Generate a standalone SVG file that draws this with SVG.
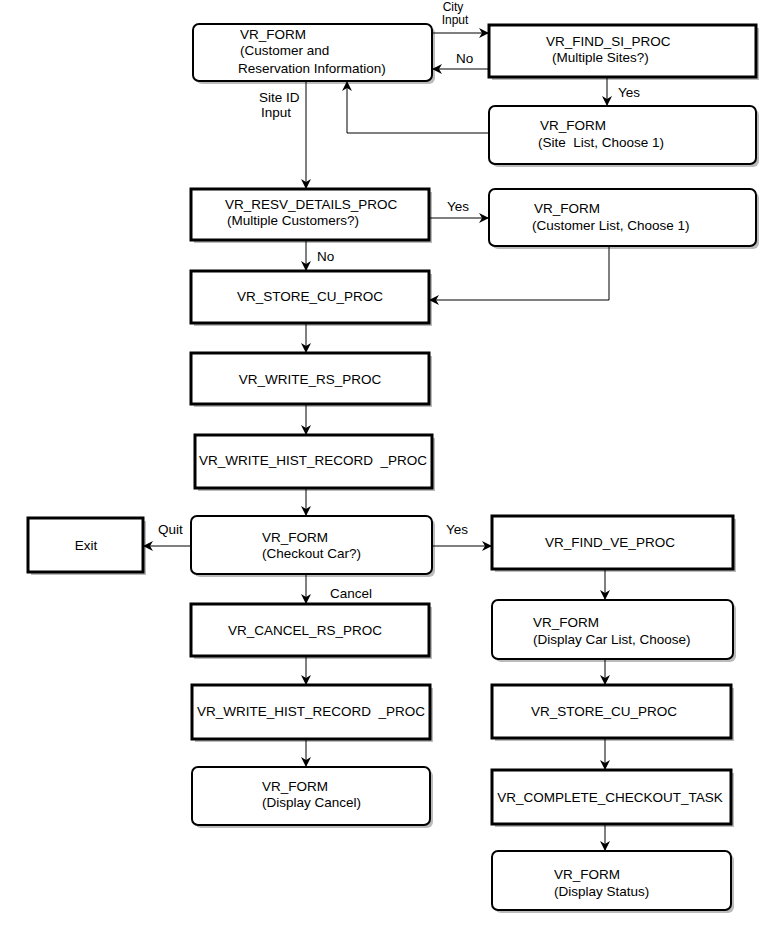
<svg xmlns="http://www.w3.org/2000/svg" width="762" height="938" viewBox="0 0 762 938">
<defs>
<marker id="ah" viewBox="0 0 10 10" refX="10" refY="5" markerWidth="10" markerHeight="10" markerUnits="userSpaceOnUse" orient="auto"><path d="M0,0 L10,5 L0,10 L3,5 z" fill="#000"/></marker>
</defs>
<style>
text{font-family:"Liberation Sans",Arial,sans-serif;font-size:13.5px;fill:#000}
.sm{font-size:12px}
.p{fill:#fff;stroke:#000;stroke-width:3}
.f{fill:#fff;stroke:#000;stroke-width:2}
.s{fill:#bbb;stroke:none}
.c{fill:none;stroke:#000;stroke-width:1;marker-end:url(#ah)}
.m{text-anchor:middle}
</style>
<rect width="762" height="938" fill="#fff"/>
<g id="form1"><rect class="s" x="196" y="27" width="239" height="57" rx="6"/><rect class="f" x="193" y="24" width="239" height="57" rx="6"/><text x="240" y="39">VR_FORM</text><text x="240" y="55">(Customer and</text><text x="238" y="73">Reservation Information)</text></g>
<g id="find_si"><rect class="s" x="492" y="28" width="267" height="52"/><rect class="p" x="489" y="25" width="267" height="52"/><text x="546" y="46">VR_FIND_SI_PROC</text><text x="552" y="62">(Multiple Sites?)</text></g>
<g id="site_list"><rect class="s" x="492" y="109" width="267" height="58" rx="6"/><rect class="f" x="489" y="106" width="267" height="58" rx="6"/><text x="540" y="130">VR_FORM</text><text x="538" y="147" xml:space="preserve">(Site  List, Choose 1)</text></g>
<g id="resv"><rect class="s" x="194" y="192" width="238" height="51"/><rect class="p" x="191" y="189" width="238" height="51"/><text x="225" y="209">VR_RESV_DETAILS_PROC</text><text x="227" y="225">(Multiple Customers?)</text></g>
<g id="cust_list"><rect class="s" x="492" y="192" width="267" height="57" rx="6"/><rect class="f" x="489" y="189" width="267" height="57" rx="6"/><text x="534" y="213">VR_FORM</text><text x="532" y="230">(Customer List, Choose 1)</text></g>
<g id="store1"><rect class="s" x="194" y="274" width="238" height="52"/><rect class="p" x="191" y="271" width="238" height="52"/><text class="m" x="310" y="301">VR_STORE_CU_PROC</text></g>
<g id="write_rs"><rect class="s" x="194" y="356" width="238" height="51"/><rect class="p" x="191" y="353" width="238" height="51"/><text class="m" x="310" y="384">VR_WRITE_RS_PROC</text></g>
<g id="hist1"><rect class="s" x="198" y="438" width="237" height="53"/><rect class="p" x="195" y="435" width="237" height="53"/><text class="m" x="313" y="465" xml:space="preserve">VR_WRITE_HIST_RECORD  _PROC</text></g>
<g id="checkout"><rect class="s" x="194" y="519" width="241" height="58" rx="6"/><rect class="f" x="191" y="516" width="241" height="58" rx="6"/><text x="262" y="542">VR_FORM</text><text x="262" y="558">(Checkout Car?)</text></g>
<g id="exit"><rect class="s" x="31" y="521" width="115" height="54"/><rect class="p" x="28" y="518" width="115" height="54"/><text class="m" x="86" y="550">Exit</text></g>
<g id="find_ve"><rect class="s" x="495" y="519" width="241" height="53"/><rect class="p" x="492" y="516" width="241" height="53"/><text class="m" x="610" y="547">VR_FIND_VE_PROC</text></g>
<g id="cancel"><rect class="s" x="194" y="607" width="238" height="52"/><rect class="p" x="191" y="604" width="238" height="52"/><text class="m" x="305" y="635">VR_CANCEL_RS_PROC</text></g>
<g id="car_list"><rect class="s" x="495" y="603" width="241" height="59" rx="6"/><rect class="f" x="492" y="600" width="241" height="59" rx="6"/><text x="533" y="627">VR_FORM</text><text x="533" y="644">(Display Car List, Choose)</text></g>
<g id="hist2"><rect class="s" x="195" y="688" width="238" height="54"/><rect class="p" x="192" y="685" width="238" height="54"/><text class="m" x="311" y="716" xml:space="preserve">VR_WRITE_HIST_RECORD  _PROC</text></g>
<g id="store2"><rect class="s" x="495" y="688" width="239" height="53"/><rect class="p" x="492" y="685" width="239" height="53"/><text class="m" x="604" y="716">VR_STORE_CU_PROC</text></g>
<g id="disp_cancel"><rect class="s" x="195" y="770" width="238" height="58" rx="6"/><rect class="f" x="192" y="767" width="238" height="58" rx="6"/><text x="262" y="791">VR_FORM</text><text x="262" y="807">(Display Cancel)</text></g>
<g id="complete"><rect class="s" x="495" y="773" width="239" height="54"/><rect class="p" x="492" y="770" width="239" height="54"/><text class="m" x="610" y="802">VR_COMPLETE_CHECKOUT_TASK</text></g>
<g id="disp_status"><rect class="s" x="495" y="854" width="239" height="59" rx="6"/><rect class="f" x="492" y="851" width="239" height="59" rx="6"/><text x="554" y="879">VR_FORM</text><text x="554" y="896">(Display Status)</text></g>
<g id="connectors">
<path class="c" d="M432,33 H489"/><text class="m sm" x="453" y="11">City</text><text class="m sm" x="455" y="24">Input</text>
<path class="c" d="M489,69 H432"/><text x="456" y="63">No</text>
<path class="c" d="M607,77 V106"/><text x="618" y="97">Yes</text>
<path class="c" d="M489,133 H347 V81"/>
<path class="c" d="M306,81 V189"/><text x="259" y="102">Site ID</text><text x="261" y="117">Input</text>
<path class="c" d="M429,218 H489"/><text x="447" y="211">Yes</text>
<path class="c" d="M306,240 V271"/><text x="317" y="261">No</text>
<path class="c" d="M609,246 V300 H429"/>
<path class="c" d="M306,323 V353"/>
<path class="c" d="M306,404 V435"/>
<path class="c" d="M306,488 V516"/>
<path class="c" d="M191,546 H143"/><text x="158" y="534">Quit</text>
<path class="c" d="M432,546 H492"/><text x="446" y="534">Yes</text>
<path class="c" d="M306,574 V604"/><text x="330" y="598">Cancel</text>
<path class="c" d="M306,656 V685"/>
<path class="c" d="M306,739 V767"/>
<path class="c" d="M605,569 V600"/>
<path class="c" d="M605,659 V685"/>
<path class="c" d="M605,738 V770"/>
<path class="c" d="M605,824 V851"/>
</g>
</svg>
